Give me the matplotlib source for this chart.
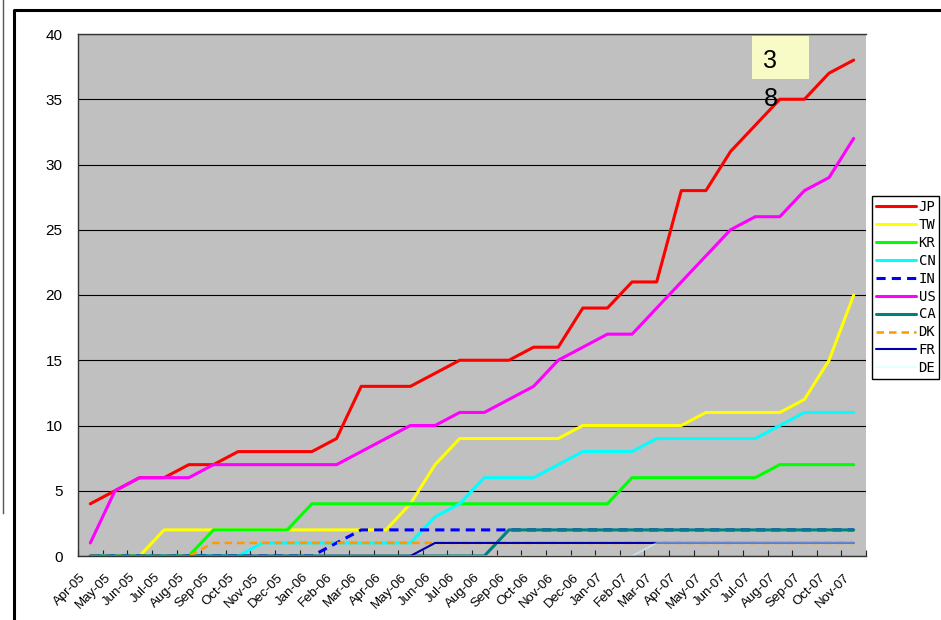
import matplotlib
matplotlib.use("Agg")
import matplotlib.pyplot as plt
from matplotlib.lines import Line2D
from matplotlib.patches import Rectangle
from matplotlib.transforms import ScaledTranslation
import numpy as np

plt.rcParams["font.family"] = ["Liberation Sans", "DejaVu Sans"]

months = ["Apr-05", "May-05", "Jun-05", "Jul-05", "Aug-05", "Sep-05", "Oct-05",
          "Nov-05", "Dec-05", "Jan-06", "Feb-06", "Mar-06", "Apr-06", "May-06",
          "Jun-06", "Jul-06", "Aug-06", "Sep-06", "Oct-06", "Nov-06", "Dec-06",
          "Jan-07", "Feb-07", "Mar-07", "Apr-07", "May-07", "Jun-07", "Jul-07",
          "Aug-07", "Sep-07", "Oct-07", "Nov-07"]

jp = [4, 5, 6, 6, 7, 7, 8, 8, 8, 8, 9, 13, 13, 13, 14, 15, 15, 15, 16, 16, 19,
      19, 21, 21, 28, 28, 31, 33, 35, 35, 37, 38]
tw = [0, 0, 0, 2, 2, 2, 2, 2, 2, 2, 2, 2, 2, 4, 7, 9, 9, 9, 9, 9, 10,
      10, 10, 10, 10, 11, 11, 11, 11, 12, 15, 20]
kr = [0, 0, 0, 0, 0, 2, 2, 2, 2, 4, 4, 4, 4, 4, 4, 4, 4, 4, 4, 4, 4,
      4, 6, 6, 6, 6, 6, 6, 7, 7, 7, 7]
cn = [0, 0, 0, 0, 0, 0, 0, 1, 1, 1, 1, 1, 1, 1, 3, 4, 6, 6, 6, 7, 8,
      8, 8, 9, 9, 9, 9, 9, 10, 11, 11, 11]
in_ = [0, 0, 0, 0, 0, 0, 0, 0, 0, 0, 1, 2, 2, 2, 2, 2, 2, 2, 2, 2, 2,
       2, 2, 2, 2, 2, 2, 2, 2, 2, 2, 2]
us = [1, 5, 6, 6, 6, 7, 7, 7, 7, 7, 7, 8, 9, 10, 10, 11, 11, 12, 13, 15, 16,
      17, 17, 19, 21, 23, 25, 26, 26, 28, 29, 32]
ca = [0, 0, 0, 0, 0, 0, 0, 0, 0, 0, 0, 0, 0, 0, 0, 0, 0, 2, 2, 2, 2,
      2, 2, 2, 2, 2, 2, 2, 2, 2, 2, 2]
dk = [0, 0, 0, 0, 0, 1, 1, 1, 1, 1, 1, 1, 1, 1, 1, 1, 1, 1, 1, 1, 1,
      1, 1, 1, 1, 1, 1, 1, 1, 1, 1, 1]
fr = [0, 0, 0, 0, 0, 0, 0, 0, 0, 0, 0, 0, 0, 0, 1, 1, 1, 1, 1, 1, 1,
      1, 1, 1, 1, 1, 1, 1, 1, 1, 1, 1]
de = [0, 0, 0, 0, 0, 0, 0, 0, 0, 0, 0, 0, 0, 0, 0, 0, 0, 0, 0, 0, 0,
      0, 0, 1, 1, 1, 1, 1, 1, 1, 1, 1]

# (label, values, colour, linewidth, dashed, alpha)
series = [
    ("JP", jp, "#FF0000", 2.2, False, 1.0),
    ("TW", tw, "#FFFF00", 2.2, False, 1.0),
    ("KR", kr, "#00FF00", 2.2, False, 1.0),
    ("CN", cn, "#00FFFF", 2.2, False, 1.0),
    ("IN", in_, "#0000FF", 2.2, True, 1.0),
    ("US", us, "#FF00FF", 2.2, False, 1.0),
    ("CA", ca, "#008080", 2.2, False, 1.0),
    ("DK", dk, "#FF9900", 1.8, True, 1.0),
    ("FR", fr, "#0000B0", 1.5, False, 1.0),
    ("DE", de, "#CCFFFF", 1.3, False, 0.55),
]

W, H = 941, 620
fig = plt.figure(figsize=(W / 100, H / 100), dpi=100)
ax = fig.add_axes([78 / W, 1 - 556 / H, (866 - 78) / W, (556 - 34) / H])
ax.set_facecolor("#C0C0C0")

x = np.arange(len(months))
for name, vals, col, lw, dashed, alpha in series:
    kw = dict(dashes=(3, 2)) if dashed else {}
    ax.plot(x, vals, color=col, lw=lw, alpha=alpha, label=name,
            solid_capstyle="round", solid_joinstyle="round",
            dash_capstyle="butt", **kw)

ax.set_xlim(-0.5, len(months) - 0.5)
ax.set_ylim(0, 40)
ax.set_yticks(np.arange(0, 41, 5))
ax.yaxis.grid(True, color="black", lw=0.8)
ax.set_axisbelow(True)
ax.tick_params(axis="y", length=0, pad=11, labelsize=11)

ax.set_xticks(x)
ax.set_xticklabels(months, rotation=45, ha="right", va="center",
                   rotation_mode="anchor", fontsize=9.5)
ax.tick_params(axis="x", which="major", length=0, pad=14)
ax.set_xticks(np.arange(-0.5, len(months)), minor=True)
ax.tick_params(axis="x", which="minor", direction="in", length=4,
               color="#222222", width=0.8)
shift = ScaledTranslation(-6 / 100, 0, fig.dpi_scale_trans)
for lab in ax.get_xticklabels():
    lab.set_transform(lab.get_transform() + shift)

ax.spines["right"].set_visible(False)
for side in ("left", "bottom", "top"):
    ax.spines[side].set_color("#333333")
    ax.spines[side].set_linewidth(1)

# value box for the latest JP count (the box is narrower than the number,
# so the digits wrap onto two lines)
label = "\n".join(str(jp[-1]))
ax.add_patch(Rectangle((26.86, 36.55), 2.34, 3.3, facecolor="#F8FBC6",
                       edgecolor="none", zorder=5))
ax.text(27.62, 38.85, label, ha="center", va="top", fontsize=18,
        linespacing=1.75, zorder=6)

leg = fig.legend(loc="upper left", bbox_to_anchor=(872 / W, 1 - 196 / H),
                 borderaxespad=0, frameon=True, fancybox=False, framealpha=1,
                 edgecolor="black", handlelength=2.9, handletextpad=0.15,
                 labelspacing=0.28, borderpad=0.3,
                 prop={"family": "DejaVu Sans Mono", "size": 10})
leg.get_frame().set_linewidth(1)

# chart area frame and the window edge on the left
fig.add_artist(Line2D([14 / W, 14 / W, 1.02], [-0.05, 1 - 10 / H, 1 - 10 / H],
                      transform=fig.transFigure, color="black", lw=2.2))
fig.add_artist(Line2D([3 / W, 3 / W], [1 - 513 / H, 1.0],
                      transform=fig.transFigure, color="#555555", lw=1))

fig.savefig("out.png", dpi=100)
